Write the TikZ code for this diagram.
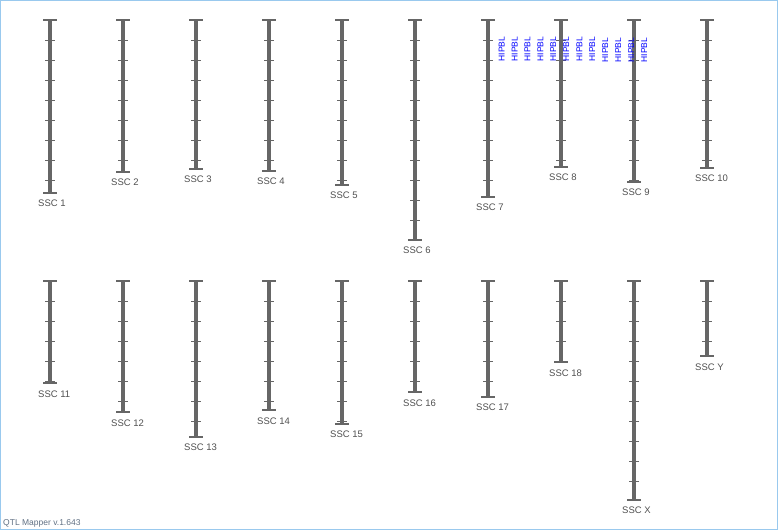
\documentclass[tikz,border=0pt]{standalone}
\usepackage{fontspec}
\setmainfont{Liberation Sans}
\usepackage{tikz}

\definecolor{barcol}{HTML}{666666}
\definecolor{labcol}{HTML}{505050}
\definecolor{framecol}{HTML}{99C9EE}
\definecolor{footcol}{HTML}{5F6F82}

\begin{document}
\begin{tikzpicture}[x=1pt,y=1pt]
			\tikzstyle{every node}+=[inner sep=0pt]
			\tikzstyle{chrom}=[barcol, line width=4pt]
			\tikzstyle{endline}=[barcol, line width=2pt]
			\tikzstyle{tickline}=[barcol, line width=1.4pt, yshift=-0.5pt]
			\tikzstyle{ssc}=[anchor=west, text=labcol, font=\fontsize{9.5}{11}\selectfont]
			\tikzstyle{qtl}=[anchor=west, rotate=90, text=blue, font=\fontsize{8.5}{10}\selectfont]
			\useasboundingbox (0,0) rectangle (778,-530);
			\draw [framecol, line width=1pt] (0.5,-0.5) rectangle (777.5,-529);
			% first row
			\draw [chrom] (50,-20) -- (50,-193);
			\draw [endline] (43,-20) -- (57,-20) (43,-193) -- (57,-193);
			\foreach \y in {40,60,...,180} \draw [tickline] (45,-\y) -- (55,-\y);
			\draw (38,-203) node [ssc] (ssc1) {SSC 1};
			\draw [chrom] (123,-20) -- (123,-172);
			\draw [endline] (116,-20) -- (130,-20) (116,-172) -- (130,-172);
			\foreach \y in {40,60,...,160} \draw [tickline] (118,-\y) -- (128,-\y);
			\draw (111,-182) node [ssc] (ssc2) {SSC 2};
			\draw [chrom] (196,-20) -- (196,-169);
			\draw [endline] (189,-20) -- (203,-20) (189,-169) -- (203,-169);
			\foreach \y in {40,60,...,160} \draw [tickline] (191,-\y) -- (201,-\y);
			\draw (184,-179) node [ssc] (ssc3) {SSC 3};
			\draw [chrom] (269,-20) -- (269,-171);
			\draw [endline] (262,-20) -- (276,-20) (262,-171) -- (276,-171);
			\foreach \y in {40,60,...,160} \draw [tickline] (264,-\y) -- (274,-\y);
			\draw (257,-181) node [ssc] (ssc4) {SSC 4};
			\draw [chrom] (342,-20) -- (342,-185);
			\draw [endline] (335,-20) -- (349,-20) (335,-185) -- (349,-185);
			\foreach \y in {40,60,...,180} \draw [tickline] (337,-\y) -- (347,-\y);
			\draw (330,-195) node [ssc] (ssc5) {SSC 5};
			\draw [chrom] (415,-20) -- (415,-240);
			\draw [endline] (408,-20) -- (422,-20) (408,-240) -- (422,-240);
			\foreach \y in {40,60,...,220} \draw [tickline] (410,-\y) -- (420,-\y);
			\draw (403,-250) node [ssc] (ssc6) {SSC 6};
			\draw [chrom] (488,-20) -- (488,-197);
			\draw [endline] (481,-20) -- (495,-20) (481,-197) -- (495,-197);
			\foreach \y in {40,60,...,180} \draw [tickline] (483,-\y) -- (493,-\y);
			\draw (476,-207) node [ssc] (ssc7) {SSC 7};
			\draw [chrom] (561,-20) -- (561,-167);
			\draw [endline] (554,-20) -- (568,-20) (554,-167) -- (568,-167);
			\foreach \y in {40,60,...,160} \draw [tickline] (556,-\y) -- (566,-\y);
			\draw (549,-177) node [ssc] (ssc8) {SSC 8};
			\draw [chrom] (634,-20) -- (634,-182);
			\draw [endline] (627,-20) -- (641,-20) (627,-182) -- (641,-182);
			\foreach \y in {40,60,...,180} \draw [tickline] (629,-\y) -- (639,-\y);
			\draw (622,-192) node [ssc] (ssc9) {SSC 9};
			\draw [chrom] (707,-20) -- (707,-168);
			\draw [endline] (700,-20) -- (714,-20) (700,-168) -- (714,-168);
			\foreach \y in {40,60,...,160} \draw [tickline] (702,-\y) -- (712,-\y);
			\draw (695,-178) node [ssc] (ssc10) {SSC 10};
			% second row
			\draw [chrom] (50,-281) -- (50,-383);
			\draw [endline] (43,-281) -- (57,-281) (43,-383) -- (57,-383);
			\foreach \y in {301,321,...,381} \draw [tickline] (45,-\y) -- (55,-\y);
			\draw (38,-394) node [ssc] (ssc11) {SSC 11};
			\draw [chrom] (123,-281) -- (123,-412);
			\draw [endline] (116,-281) -- (130,-281) (116,-412) -- (130,-412);
			\foreach \y in {301,321,...,401} \draw [tickline] (118,-\y) -- (128,-\y);
			\draw (111,-423) node [ssc] (ssc12) {SSC 12};
			\draw [chrom] (196,-281) -- (196,-437);
			\draw [endline] (189,-281) -- (203,-281) (189,-437) -- (203,-437);
			\foreach \y in {301,321,...,421} \draw [tickline] (191,-\y) -- (201,-\y);
			\draw (184,-447) node [ssc] (ssc13) {SSC 13};
			\draw [chrom] (269,-281) -- (269,-410);
			\draw [endline] (262,-281) -- (276,-281) (262,-410) -- (276,-410);
			\foreach \y in {301,321,...,401} \draw [tickline] (264,-\y) -- (274,-\y);
			\draw (257,-421) node [ssc] (ssc14) {SSC 14};
			\draw [chrom] (342,-281) -- (342,-424);
			\draw [endline] (335,-281) -- (349,-281) (335,-424) -- (349,-424);
			\foreach \y in {301,321,...,421} \draw [tickline] (337,-\y) -- (347,-\y);
			\draw (330,-434) node [ssc] (ssc15) {SSC 15};
			\draw [chrom] (415,-281) -- (415,-392);
			\draw [endline] (408,-281) -- (422,-281) (408,-392) -- (422,-392);
			\foreach \y in {301,321,...,381} \draw [tickline] (410,-\y) -- (420,-\y);
			\draw (403,-403) node [ssc] (ssc16) {SSC 16};
			\draw [chrom] (488,-281) -- (488,-397);
			\draw [endline] (481,-281) -- (495,-281) (481,-397) -- (495,-397);
			\foreach \y in {301,321,...,381} \draw [tickline] (483,-\y) -- (493,-\y);
			\draw (476,-407) node [ssc] (ssc17) {SSC 17};
			\draw [chrom] (561,-281) -- (561,-362);
			\draw [endline] (554,-281) -- (568,-281) (554,-362) -- (568,-362);
			\foreach \y in {301,321,...,361} \draw [tickline] (556,-\y) -- (566,-\y);
			\draw (549,-373) node [ssc] (ssc18) {SSC 18};
			\draw [chrom] (634,-281) -- (634,-500);
			\draw [endline] (627,-281) -- (641,-281) (627,-500) -- (641,-500);
			\foreach \y in {301,321,...,481} \draw [tickline] (629,-\y) -- (639,-\y);
			\draw (622,-510) node [ssc] (sscx) {SSC X};
			\draw [chrom] (707,-281) -- (707,-356);
			\draw [endline] (700,-281) -- (714,-281) (700,-356) -- (714,-356);
			\foreach \y in {301,321,341} \draw [tickline] (702,-\y) -- (712,-\y);
			\draw (695,-367) node [ssc] (sscy) {SSC Y};
			% QTL labels
			\draw (501.7,-61.5) node [qtl] (q1) {HIPBL};
			\draw (514.6,-61.5) node [qtl] (q2) {HIPBL};
			\draw (527.5,-61.5) node [qtl] (q3) {HIPBL};
			\draw (540.4,-61.5) node [qtl] (q4) {HIPBL};
			\draw (553.3,-61.5) node [qtl] (q5) {HIPBL};
			\draw (566.3,-61.5) node [qtl] (q6) {HIPBL};
			\draw (579.4,-61.5) node [qtl] (q7) {HIPBL};
			\draw (592.3,-61.5) node [qtl] (q8) {HIPBL};
			\draw (605.3,-62.5) node [qtl] (q9) {HIPBL};
			\draw (618.3,-62.5) node [qtl] (q10) {HIPBL};
			\draw (631.3,-62.5) node [qtl] (q11) {HIPBL};
			\draw (644.3,-62.5) node [qtl] (q12) {HIPBL};
			\draw (3,-523) node [anchor=west, text=footcol, font=\fontsize{8.5}{10}\selectfont] (ver) {QTL Mapper v.1.643};
			\end{tikzpicture}
\end{document}
